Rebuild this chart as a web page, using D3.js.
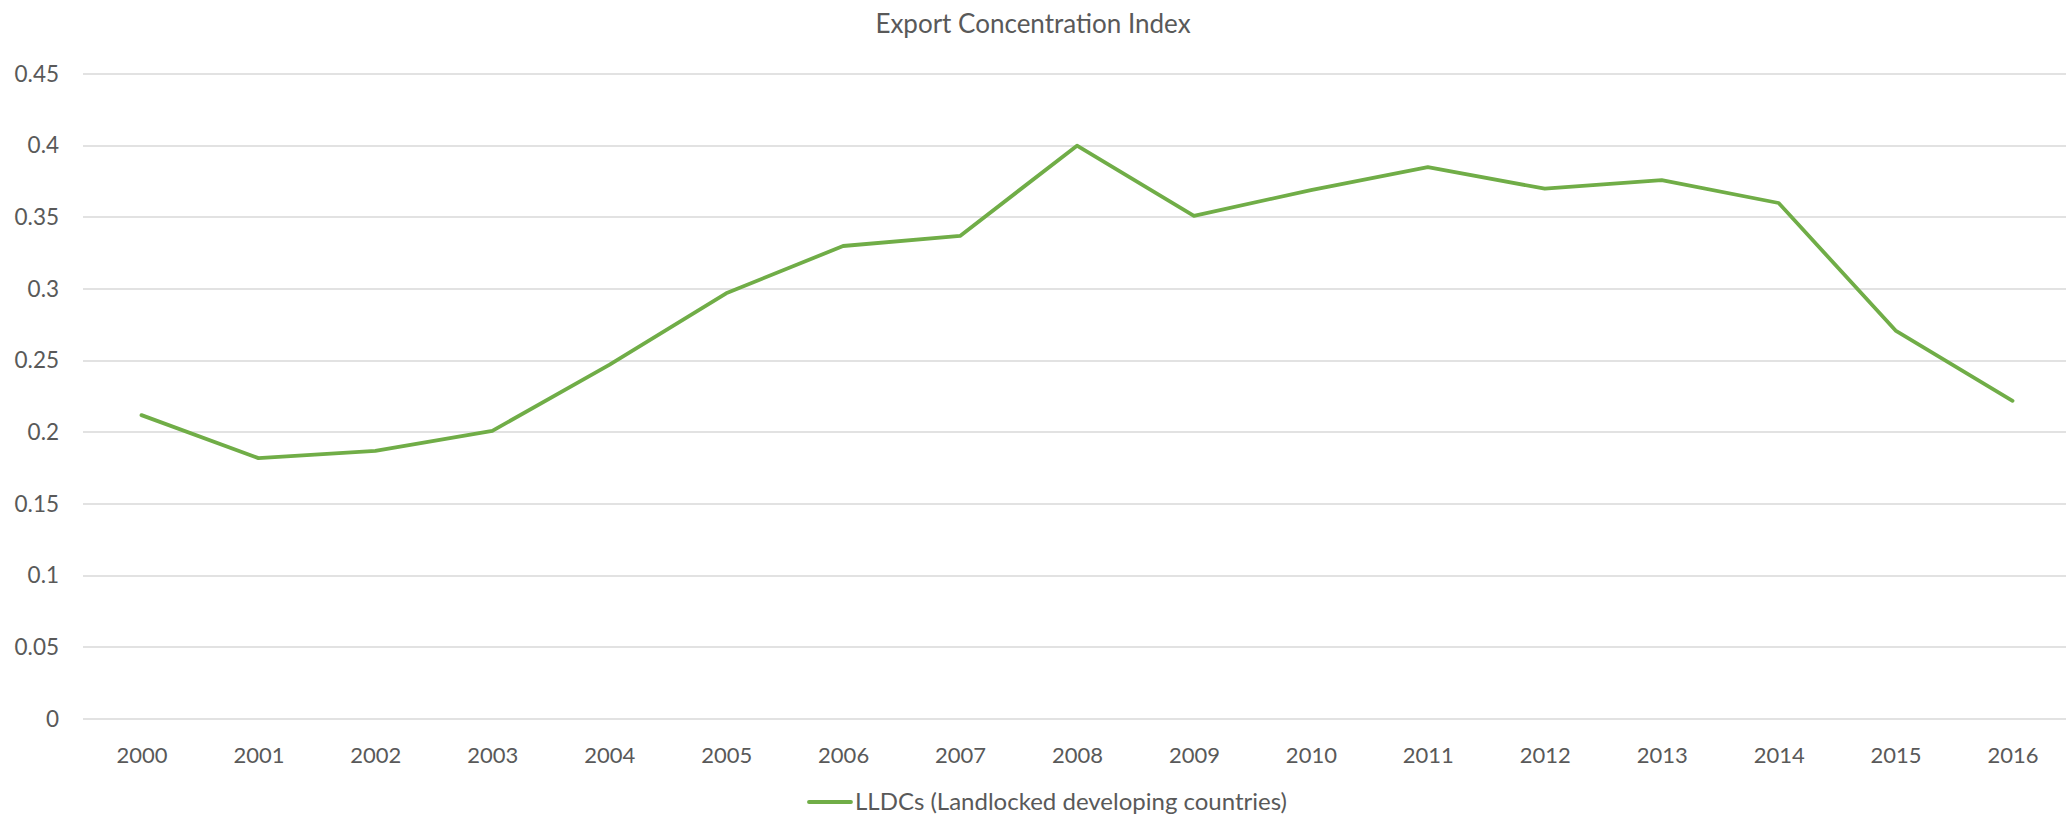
<!DOCTYPE html>
<html>
<head>
<meta charset="utf-8">
<script src="https://cdn.jsdelivr.net/npm/d3@7"></script>
<style>
  html, body { margin: 0; padding: 0; background: #fff; overflow: hidden; }
  svg text { font-family: Lato, "Open Sans", sans-serif; fill: #595959; }
</style>
</head>
<body>
<svg id="chart" width="2066" height="818"></svg>
<script>
// Export concentration index for landlocked developing countries, 2000–2016
const years = ["2000","2001","2002","2003","2004","2005","2006","2007","2008",
               "2009","2010","2011","2012","2013","2014","2015","2016"];
const lldcValues = [0.212, 0.182, 0.187, 0.201, 0.247, 0.297, 0.330, 0.337, 0.400,
                    0.351, 0.369, 0.385, 0.370, 0.376, 0.360, 0.271, 0.222];
const yTicks = [0, 0.05, 0.1, 0.15, 0.2, 0.25, 0.3, 0.35, 0.4, 0.45];
const yTickLabels = ["0", "0.05", "0.1", "0.15", "0.2", "0.25", "0.3", "0.35", "0.4", "0.45"];
const seriesName = "LLDCs (Landlocked developing countries)";
const chartTitle = "Export Concentration Index";

const W = 2066, H = 818;
// the plot area runs slightly past the right edge of the canvas
const plot = { left: 83, right: 2071, top: 74, bottom: 719 };
const svg = d3.select("#chart");
const green = "#70AD47";

const x = d3.scalePoint()
  .domain(years)
  .range([plot.left, plot.right])
  .padding(0.5);

const y = d3.scaleLinear()
  .domain([0, 0.45])
  .range([plot.bottom, plot.top]);

// horizontal gridlines
svg.append("g")
  .selectAll("line")
  .data(yTicks)
  .join("line")
  .attr("x1", plot.left)
  .attr("x2", W)
  .attr("y1", d => Math.round(y(d)))
  .attr("y2", d => Math.round(y(d)))
  .attr("stroke", "#D9D9D9")
  .attr("stroke-width", 1.6);

// y axis labels
const yAxis = d3.axisLeft(y)
  .tickValues(yTicks)
  .tickFormat((d, i) => yTickLabels[i])
  .tickSize(0)
  .tickPadding(0);
const gy = svg.append("g")
  .attr("transform", `translate(${plot.left - 24},0)`)
  .call(yAxis);
gy.select(".domain").remove();
gy.selectAll("text")
  .attr("font-size", 22.5)
  .attr("fill", "#595959");
gy.attr("font-family", null);

// x axis labels
const xAxis = d3.axisBottom(x).tickSize(0).tickPadding(0);
const gx = svg.append("g")
  .attr("transform", `translate(0,${plot.bottom + 36})`)
  .call(xAxis);
gx.select(".domain").remove();
gx.selectAll("text")
  .attr("font-size", 22)
  .attr("dy", "0.35em")
  .attr("fill", "#595959");
gx.attr("font-family", null);

// series line
const line = d3.line()
  .x((d, i) => x(years[i]))
  .y(d => y(d));

svg.append("path")
  .datum(lldcValues)
  .attr("d", line)
  .attr("fill", "none")
  .attr("stroke", green)
  .attr("stroke-width", 3.8)
  .attr("stroke-linejoin", "round")
  .attr("stroke-linecap", "round");

// title
svg.append("text")
  .attr("x", 1033)
  .attr("y", 24)
  .attr("dy", "0.35em")
  .attr("text-anchor", "middle")
  .attr("font-size", 26)
  .text(chartTitle);

// legend, centred below the axis
const legend = svg.append("g");
const legendText = legend.append("text")
  .attr("x", 50)
  .attr("y", 0)
  .attr("dy", "0.35em")
  .attr("font-size", 24)
  .text(seriesName);
legend.append("line")
  .attr("x1", 4).attr("x2", 46)
  .attr("y1", 0).attr("y2", 0)
  .attr("stroke", green)
  .attr("stroke-width", 3.8)
  .attr("stroke-linecap", "round");
const legendWidth = 50 + legendText.node().getComputedTextLength();
legend.attr("transform", `translate(${1046 - legendWidth / 2},802)`);
</script>
</body>
</html>
